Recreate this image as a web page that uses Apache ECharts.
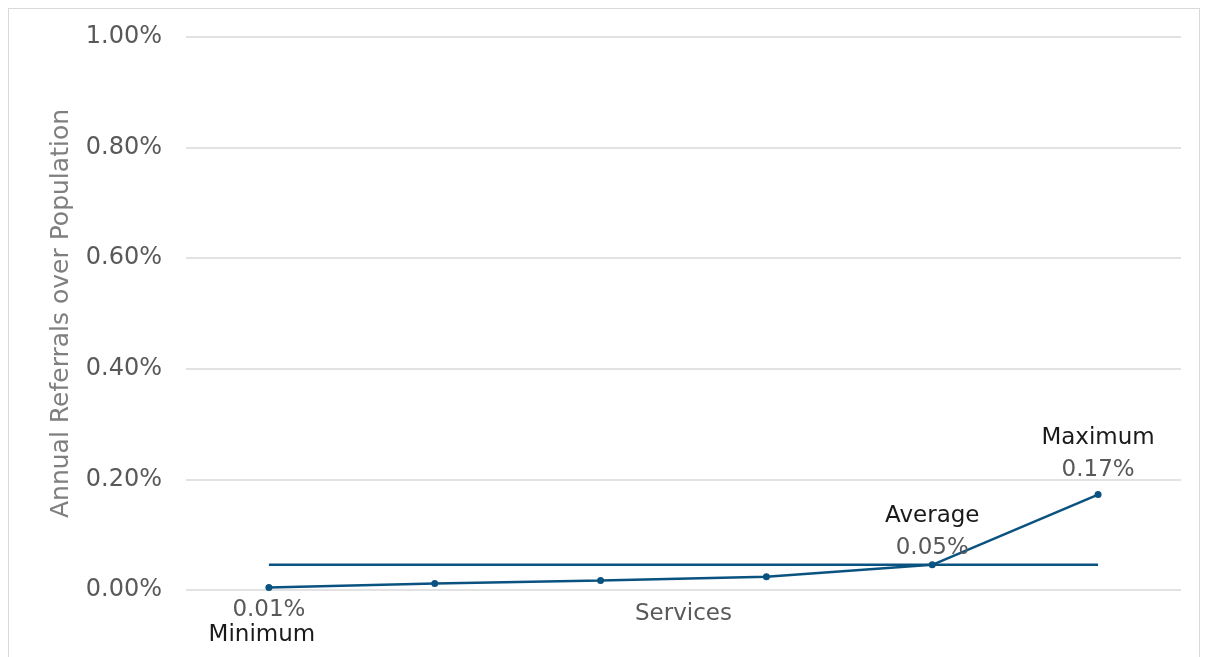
<!DOCTYPE html>
<html><head><meta charset="utf-8">
<script src="https://cdn.jsdelivr.net/npm/echarts@6/dist/echarts.min.js"></script>
<style>
html,body{margin:0;padding:0;background:#fff;}
#frame{position:absolute;left:8px;top:8px;width:1192px;height:660px;border:1.5px solid #d9d9d9;box-sizing:border-box;}
#c{position:absolute;left:0;top:0;width:1205px;height:657px;}
</style></head>
<body>
<div id="frame"></div>
<div id="c"></div>
<script>
const categories = ['S1','S2','S3','S4','S5','S6'];
const referralRates = [0.0045, 0.0118, 0.0170, 0.0240, 0.0455, 0.1725];
const averageRate = [0.0457, 0.0457, 0.0457, 0.0457, 0.0457, 0.0457];
const pointLabels = [['Minimum','0.01%','bottom'], null, null, null, ['Average','0.05%','top'], ['Maximum','0.17%','top']];
const yTicks = [0, 0.2, 0.4, 0.6, 0.8, 1.0];

const FONT = 'DejaVu Sans';
const labelDist = [7, 0, 0, 0, -3, 5];
const lineData = referralRates.map((v, i) => {
  const pl = pointLabels[i];
  if (!pl) return { value: v };
  const bottom = pl[2] === 'bottom';
  const txt = bottom ? '{vb|' + pl[1] + '}\n{nb|' + pl[0] + '}' : '{n|' + pl[0] + '}\n{v|' + pl[1] + '}';
  return { value: v, label: { show: true, position: pl[2], distance: labelDist[i], formatter: txt } };
});

const chart = echarts.init(document.getElementById('c'));
chart.setOption({
  animation: false,
  grid: { left: 186, right: 24, top: 37, bottom: 67, containLabel: false },
  xAxis: {
    type: 'category', data: categories,
    name: 'Services', nameLocation: 'middle', nameGap: 13,
    nameTextStyle: { fontFamily: FONT, fontSize: 23, color: '#595959' },
    axisLine: { show: false }, axisTick: { show: false }, axisLabel: { show: false }
  },
  yAxis: {
    type: 'value', min: 0, max: 1.0, interval: 0.2,
    name: 'Annual Referrals over Population', nameLocation: 'middle', nameGap: 112,
    nameTextStyle: { fontFamily: FONT, fontSize: 25, color: '#7f7f7f' },
    axisLabel: { fontFamily: FONT, fontSize: 24, color: '#595959', margin: 24,
      formatter: v => v.toFixed(2) + '%' },
    splitLine: { lineStyle: { color: '#d9d9d9', width: 1.5 } },
    axisLine: { show: false }, axisTick: { show: false }
  },
  series: [
    {
      type: 'line', data: averageRate, symbol: 'none',
      lineStyle: { color: '#0a5380', width: 2.5 }, z: 2
    },
    {
      type: 'line', data: lineData, symbol: 'circle', symbolSize: 7,
      itemStyle: { color: '#0a5380' },
      lineStyle: { color: '#0a5380', width: 2.5 }, z: 3,
      label: {
        show: false, fontFamily: FONT,
        rich: {
          n: { fontFamily: FONT, fontSize: 23, color: '#1a1a1a', lineHeight: 32 },
          v: { fontFamily: FONT, fontSize: 23, color: '#595959', lineHeight: 32 },
          nb: { fontFamily: FONT, fontSize: 23, color: '#1a1a1a', lineHeight: 25, padding: [0, 14, 0, 0] },
          vb: { fontFamily: FONT, fontSize: 23, color: '#595959', lineHeight: 25 }
        }
      }
    }
  ]
});
</script>
</body></html>
